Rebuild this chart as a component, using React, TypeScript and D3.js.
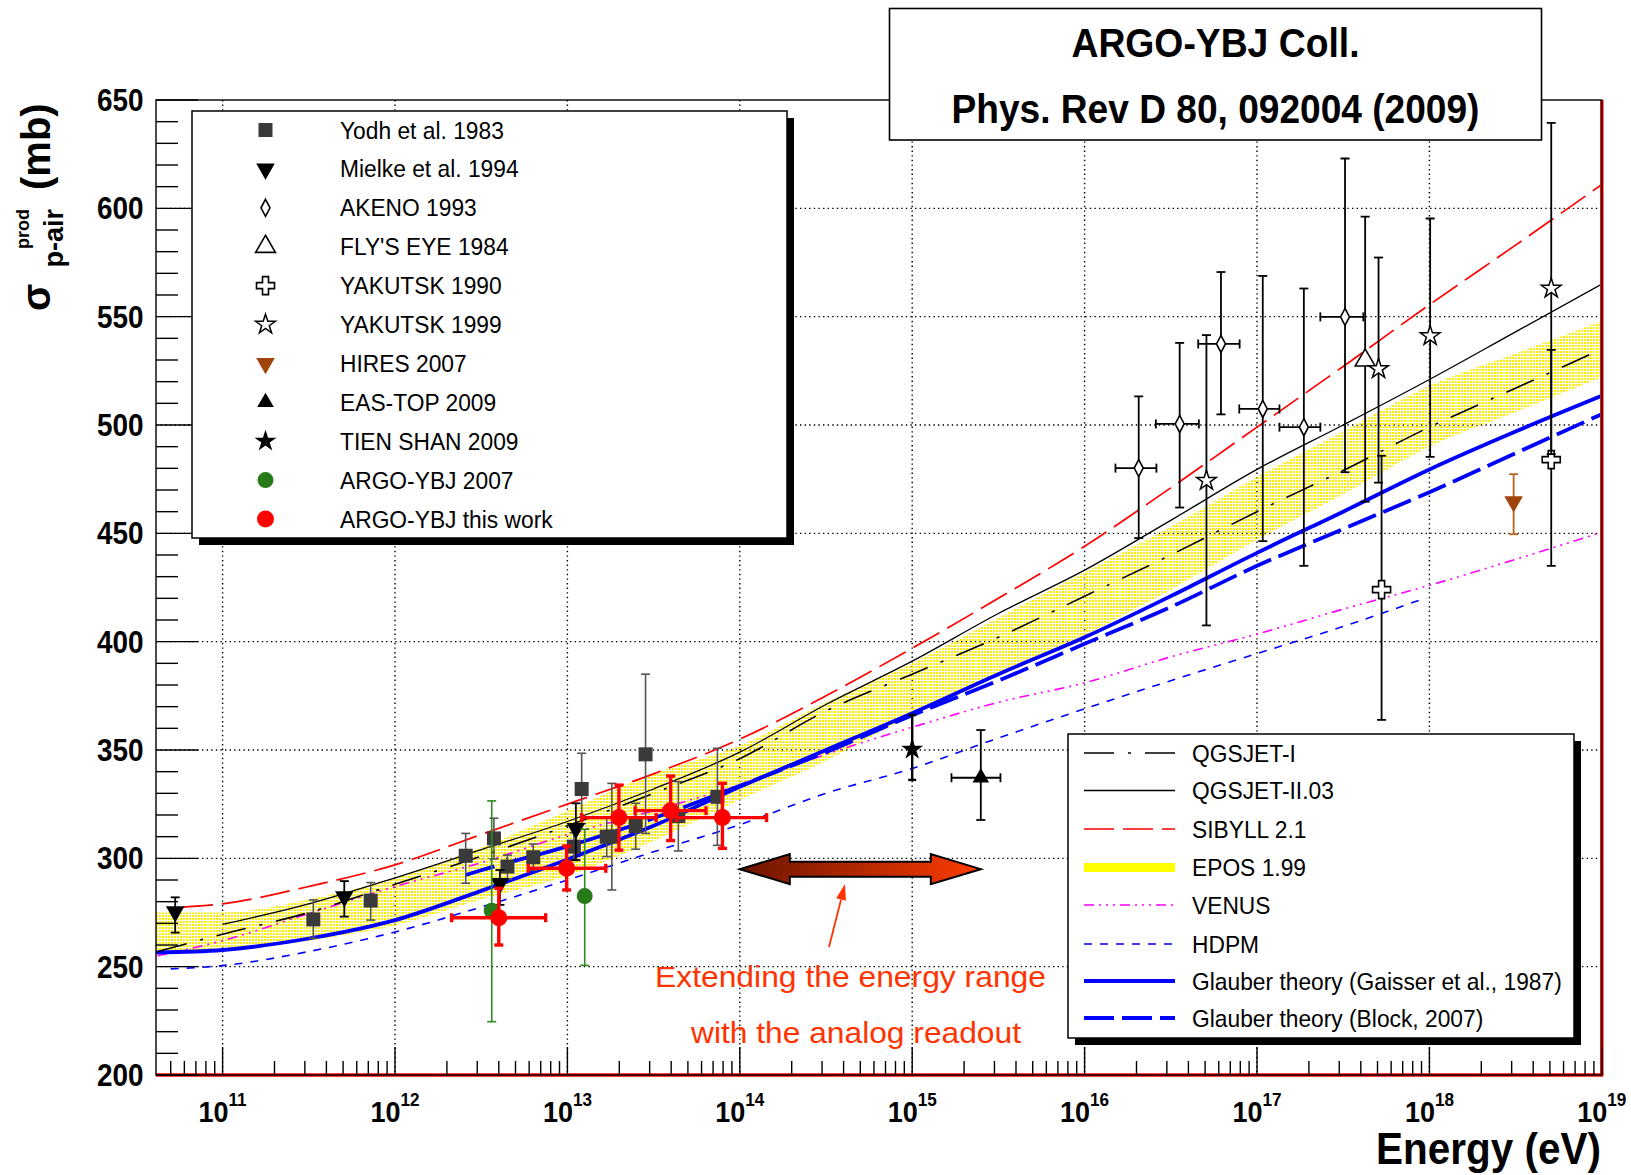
import React from "react";
import * as d3 from "d3";

const WIDTH = 1631;
const HEIGHT = 1175;
const FRAME = { left: 156, right: 1601.8, top: 100, bottom: 1075 };
const FONT = "'Liberation Sans', Arial, Helvetica, sans-serif";

// Axis ticks
const sigmaTicks = [200, 250, 300, 350, 400, 450, 500, 550, 600, 650];
const decadeExponents = [11, 12, 13, 14, 15, 16, 17, 18, 19];

type Point = { e: number; s: number; sLo: number; sHi: number; eLo?: number; eHi?: number };

// Measurements: energy (eV), sigma p-air production (mb) with error limits
const yodh1983: Point[] = [
  { e: 3.36e11, s: 271.8, sLo: 263.1, sHi: 280.8 },
  { e: 7.23e11, s: 280.5, sLo: 271.5, sHi: 288.8 },
  { e: 2.57e12, s: 301.2, sLo: 288.5, sHi: 311.5 },
  { e: 3.75e12, s: 309.2, sLo: 299.7, sHi: 318.5 },
  { e: 4.49e12, s: 296.2, sLo: 290.5, sHi: 301.5 },
  { e: 6.34e12, s: 300.5, sLo: 294.5, sHi: 306.6 },
  { e: 1.09e13, s: 305.4, sLo: 299.0, sHi: 311.8 },
  { e: 1.21e13, s: 332.0, sLo: 316.0, sHi: 348.5 },
  { e: 1.69e13, s: 310.0, sLo: 300.8, sHi: 319.2 },
  { e: 1.81e13, s: 310.0, sLo: 285.4, sHi: 334.6 },
  { e: 2.49e13, s: 314.9, sLo: 304.2, sHi: 325.4 },
  { e: 2.84e13, s: 348.0, sLo: 311.5, sHi: 385.0 },
  { e: 4.4e13, s: 319.5, sLo: 303.4, sHi: 335.4 },
  { e: 7.41e13, s: 328.4, sLo: 306.0, sHi: 350.8 },
];

const mielke1994: Point[] = [
  { e: 5.31e10, s: 275.4, sLo: 265.7, sHi: 282.0 },
  { e: 5.08e11, s: 282.3, sLo: 273.1, sHi: 289.5 },
  { e: 4.06e12, s: 288.5, sLo: 278.5, sHi: 294.6 },
  { e: 1.12e13, s: 313.8, sLo: 299.2, sHi: 325.4 },
];

const akeno1993: Point[] = [
  { e: 2.06e16, s: 480.1, sLo: 447.8, sHi: 513.2, eLo: 1.51e16, eHi: 2.61e16 },
  { e: 3.56e16, s: 500.5, sLo: 461.9, sHi: 537.9, eLo: 2.59e16, eHi: 4.6e16 },
  { e: 6.18e16, s: 537.4, sLo: 504.9, sHi: 570.6, eLo: 4.56e16, eHi: 7.93e16 },
  { e: 1.08e17, s: 507.4, sLo: 446.4, sHi: 568.8, eLo: 7.89e16, eHi: 1.35e17 },
  { e: 1.87e17, s: 499.0, sLo: 435.0, sHi: 563.0, eLo: 1.35e17, eHi: 2.33e17 },
  { e: 3.24e17, s: 549.9, sLo: 478.2, sHi: 623.0, eLo: 2.33e17, eHi: 4.14e17 },
];

const flysEye1984: Point[] = [{ e: 4.24e17, s: 529.9, sLo: 464.6, sHi: 596.2 }];

const yakutsk1990: Point[] = [
  { e: 5.28e17, s: 424.0, sLo: 363.9, sHi: 485.8 },
  { e: 5.09e18, s: 484.0, sLo: 435.0, sHi: 534.7 },
];

const yakutsk1999: Point[] = [
  { e: 5.09e16, s: 474.3, sLo: 407.5, sHi: 541.5 },
  { e: 5.07e17, s: 525.9, sLo: 473.4, sHi: 577.3 },
  { e: 1.01e18, s: 541.1, sLo: 485.3, sHi: 595.3 },
  { e: 5.09e18, s: 563.0, sLo: 486.6, sHi: 639.4 },
];

const hires2007: Point[] = [{ e: 3.08e18, s: 464.6, sLo: 449.6, sHi: 477.3 }];

const easTop2009: Point[] = [
  { e: 2.5e15, s: 337.2, sLo: 317.7, sHi: 359.2, eLo: 1.69e15, eHi: 3.25e15 },
];

const tienShan2009: Point[] = [{ e: 1.0e15, s: 350.3, sLo: 336.2, sHi: 366.2 }];

const argo2007: Point[] = [
  { e: 3.64e12, s: 275.8, sLo: 224.6, sHi: 326.5 },
  { e: 1.26e13, s: 282.6, sLo: 250.6, sHi: 313.4 },
];

const argoThisWork: Point[] = [
  { e: 4.0e12, s: 272.6, sLo: 260.0, sHi: 286.2, eLo: 2.13e12, eHi: 7.48e12 },
  { e: 9.9e12, s: 295.4, sLo: 285.4, sHi: 305.7, eLo: 5.93e12, eHi: 1.67e13 },
  { e: 1.99e13, s: 318.8, sLo: 303.8, sHi: 333.8, eLo: 1.21e13, eHi: 3.27e13 },
  { e: 3.97e13, s: 322.0, sLo: 308.2, sHi: 338.0, eLo: 2.47e13, eHi: 6.37e13 },
  { e: 7.93e13, s: 318.8, sLo: 304.6, sHi: 334.6, eLo: 4.31e13, eHi: 1.43e14 },
];

// Model predictions: [energy (eV), sigma (mb)]
const qgsjet1: [number, number][] = [
  [4.2e10, 257], [1e11, 265], [3.16e11, 275], [1e12, 288], [3.16e12, 301], [1e13, 315],
  [3.16e13, 330], [1e14, 346], [3.16e14, 368], [1e15, 385], [3.16e15, 402], [1e16, 421],
  [3.16e16, 440], [1e17, 460], [3.16e17, 479], [1e18, 499], [3.16e18, 517], [1e19, 535],
];

const qgsjet2: [number, number][] = [
  [1e11, 269.5], [3.16e11, 279], [1e12, 291], [3.16e12, 304], [1e13, 317], [3.16e13, 332],
  [1e14, 349], [3.16e14, 371], [1e15, 391], [3.16e15, 413], [1e16, 433], [3.16e16, 456],
  [1e17, 479.5], [3.16e17, 500], [1e18, 521], [3.16e18, 543], [1e19, 565],
];

const sibyll21: [number, number][] = [
  [5.9e10, 277.5], [1e11, 279], [3.16e11, 287], [1e12, 297], [3.16e12, 311], [1e13, 325],
  [3.16e13, 339], [1e14, 355], [3.16e14, 375], [1e15, 397], [3.16e15, 420], [1e16, 444],
  [3.16e16, 471], [1e17, 499], [3.16e17, 527], [1e18, 555.5], [3.16e18, 583], [1e19, 611],
];

// EPOS 1.99 band: [energy, upper, lower]
const epos199: [number, number, number][] = [
  [4.11e10, 275, 257], [1e11, 275, 257.5], [3.16e11, 281, 262], [1e12, 291, 269],
  [3.16e12, 305, 281], [1e13, 322, 292], [3.16e13, 339, 308], [1e14, 352, 327],
  [3.16e14, 372, 345], [1e15, 390, 366], [3.16e15, 411, 384], [1e16, 432, 403],
  [3.16e16, 453, 424], [1e17, 476, 447], [3.16e17, 497, 468], [1e18, 518, 490],
  [3.16e18, 533, 506], [1e19, 548, 522],
];

const venus: [number, number][] = [
  [4.2e10, 255], [1e11, 262], [3.16e11, 274.5], [1e12, 287], [3.16e12, 298], [1e13, 311],
  [3.16e13, 322], [1e14, 334], [3.16e14, 348], [1e15, 360.5], [3.16e15, 372], [1e16, 381],
  [3.16e16, 393], [1e17, 403.5], [3.16e17, 415], [1e18, 426], [3.16e18, 438], [1e19, 450.5],
];

const hdpm: [number, number][] = [
  [5e10, 249], [1e11, 250.5], [3.16e11, 257], [1e12, 266], [3.16e12, 277.5], [1e13, 290],
  [3.16e13, 303], [1e14, 315.5], [3.16e14, 330], [1e15, 341.5], [3.16e15, 355.5], [1e16, 369],
  [3.16e16, 382], [1e17, 394.5], [3.16e17, 407], [9e17, 419.5],
];

const glauberGaisser: [number, number][] = [
  [4.1e10, 256.5], [1e11, 257.7], [3.16e11, 263], [1e12, 271.5], [3.16e12, 285], [1e13, 299.5],
  [3.16e13, 315], [1e14, 333], [3.16e14, 350], [1e15, 367], [3.16e15, 385], [1e16, 402],
  [3.16e16, 421], [1e17, 441], [3.16e17, 460], [1e18, 479.5], [3.16e18, 497], [1e19, 513.5],
];

const glauberBlock: [number, number][] = [
  [2.57e12, 292.3], [3.16e12, 294.5], [1e13, 305.5], [3.16e13, 318.5], [1e14, 333.5],
  [3.16e14, 349], [1e15, 366], [3.16e15, 382], [1e16, 399], [3.16e16, 416], [1e17, 435],
  [3.16e17, 452], [1e18, 469], [3.16e18, 487], [1e19, 505],
];

// Energy interval covered by the analog readout, and the level of the arrow (mb)
const analogSpan = [1e14, 2.5e15];
const analogLevel = 295;

const x = d3.scaleLog().domain([10 ** 10.6137, 1e19]).range([FRAME.left, FRAME.right]);
const y = d3.scaleLinear().domain([200, 650]).range([FRAME.bottom, FRAME.top]);

const sym = (type: d3.SymbolType, size: number) => d3.symbol().type(type).size(size)() as string;

const SIBYLL_DASH = "30 9";
const QGS1_DASH = "30 14 3 14";
const VENUS_DASH = "10 5 2 5 2 5 2 5";
const HDPM_DASH = "8 8";
const BLOCK_DASH = "30 8";

type MarkerKind =
  | "square" | "triDown" | "diamondOpen" | "triUpOpen" | "crossOpen" | "starOpen"
  | "triDownBrown" | "triUp" | "starFull" | "circleGreen" | "circleRed";

function Marker({ kind, cx, cy }: { kind: MarkerKind; cx: number; cy: number }) {
  const t = `translate(${cx},${cy})`;
  switch (kind) {
    case "square":
      return <rect x={cx - 7} y={cy - 7} width={14} height={14} fill="#3a3a3a" />;
    case "triDown":
      return <path d={sym(d3.symbolTriangle, 150)} transform={`${t} rotate(180)`} fill="#000" />;
    case "triDownBrown":
      return <path d={sym(d3.symbolTriangle, 150)} transform={`${t} rotate(180)`} fill="#a0440c" />;
    case "diamondOpen":
      return <path d="M0,-8.5 L4.5,0 L0,8.5 L-4.5,0 Z" transform={t} fill="#fff" stroke="#000" strokeWidth={1.6} />;
    case "triUpOpen":
      return <path d={sym(d3.symbolTriangle, 170)} transform={t} fill="#fff" stroke="#000" strokeWidth={1.6} />;
    case "triUp":
      return <path d={sym(d3.symbolTriangle, 120)} transform={t} fill="#000" />;
    case "crossOpen":
      return <path d={sym(d3.symbolCross, 180)} transform={t} fill="#fff" stroke="#000" strokeWidth={1.6} />;
    case "starOpen":
      return <path d={sym(d3.symbolStar, 120)} transform={t} fill="#fff" stroke="#000" strokeWidth={1.5} />;
    case "starFull":
      return <path d={sym(d3.symbolStar, 150)} transform={t} fill="#000" />;
    case "circleGreen":
      return <circle cx={cx} cy={cy} r={8} fill="#267a18" />;
    case "circleRed":
      return <circle cx={cx} cy={cy} r={8.5} fill="#ff0000" />;
  }
  return null;
}

type Series = { pts: Point[]; kind: MarkerKind; label: string; color: string; width: number; cap: number };

const measurementSeries: Series[] = [
  { pts: yodh1983, kind: "square", label: "Yodh et al. 1983", color: "#555", width: 1.6, cap: 9 },
  { pts: mielke1994, kind: "triDown", label: "Mielke et al. 1994", color: "#000", width: 1.8, cap: 9 },
  { pts: akeno1993, kind: "diamondOpen", label: "AKENO 1993", color: "#000", width: 1.8, cap: 9 },
  { pts: flysEye1984, kind: "triUpOpen", label: "FLY'S EYE 1984", color: "#000", width: 1.8, cap: 9 },
  { pts: yakutsk1990, kind: "crossOpen", label: "YAKUTSK 1990", color: "#000", width: 1.8, cap: 9 },
  { pts: yakutsk1999, kind: "starOpen", label: "YAKUTSK 1999", color: "#000", width: 1.8, cap: 9 },
  { pts: hires2007, kind: "triDownBrown", label: "HIRES 2007", color: "#b5621f", width: 1.8, cap: 9 },
  { pts: easTop2009, kind: "triUp", label: "EAS-TOP 2009", color: "#000", width: 1.8, cap: 9 },
  { pts: tienShan2009, kind: "starFull", label: "TIEN SHAN 2009", color: "#000", width: 2.4, cap: 8 },
  { pts: argo2007, kind: "circleGreen", label: "ARGO-YBJ 2007", color: "#2f8a20", width: 1.6, cap: 9 },
  { pts: argoThisWork, kind: "circleRed", label: "ARGO-YBJ this work", color: "#ff0000", width: 3.4, cap: 9 },
];

function ErrorBars({ s }: { s: Series }) {
  return (
    <g stroke={s.color} strokeWidth={s.width} fill="none">
      {s.pts.map((p, i) => {
        const px = x(p.e);
        const h = s.cap / 2;
        return (
          <g key={i}>
            <line x1={px} x2={px} y1={y(p.sLo)} y2={y(p.sHi)} />
            <line x1={px - h} x2={px + h} y1={y(p.sLo)} y2={y(p.sLo)} />
            <line x1={px - h} x2={px + h} y1={y(p.sHi)} y2={y(p.sHi)} />
            {p.eLo !== undefined && p.eHi !== undefined && (
              <>
                <line x1={x(p.eLo)} x2={x(p.eHi)} y1={y(p.s)} y2={y(p.s)} />
                <line x1={x(p.eLo)} x2={x(p.eLo)} y1={y(p.s) - h} y2={y(p.s) + h} />
                <line x1={x(p.eHi)} x2={x(p.eHi)} y1={y(p.s) - h} y2={y(p.s) + h} />
              </>
            )}
          </g>
        );
      })}
    </g>
  );
}

type ModelEntry = { label: string; color: string; width: number; dash?: string };

const modelLegend: ModelEntry[] = [
  { label: "QGSJET-I", color: "#000", width: 1.6, dash: QGS1_DASH },
  { label: "QGSJET-II.03", color: "#000", width: 1.6 },
  { label: "SIBYLL 2.1", color: "#ff0000", width: 1.6, dash: SIBYLL_DASH },
  { label: "EPOS 1.99", color: "#ffff00", width: 9 },
  { label: "VENUS", color: "#ff00ff", width: 1.6, dash: VENUS_DASH },
  { label: "HDPM", color: "#0000ff", width: 1.6, dash: HDPM_DASH },
  { label: "Glauber theory (Gaisser et al., 1987)", color: "#0000ff", width: 3.8 },
  { label: "Glauber theory (Block, 2007)", color: "#0000ff", width: 3.8, dash: BLOCK_DASH },
];

function T(props: {
  x: number; y: number; size: number; sx?: number; anchor?: string; weight?: string;
  fill?: string; length?: number; children: React.ReactNode;
}) {
  const { x: tx, y: ty, size, sx = 1, anchor = "start", weight = "normal", fill = "#000", length, children } = props;
  return (
    <text
      transform={`translate(${tx},${ty}) scale(${sx},1)`}
      fontSize={size}
      textAnchor={anchor as any}
      fontWeight={weight}
      fill={fill}
      fontFamily={FONT}
      textLength={length}
      lengthAdjust={length ? "spacingAndGlyphs" : undefined}
    >
      {children}
    </text>
  );
}

export default function App() {
  const line = d3
    .line<[number, number]>()
    .x((d) => x(d[0]))
    .y((d) => y(d[1]))
    .curve(d3.curveMonotoneX);
  const band = d3
    .area<[number, number, number]>()
    .x((d) => x(d[0]))
    .y0((d) => y(d[2]))
    .y1((d) => y(d[1]))
    .curve(d3.curveMonotoneX);

  // minor ticks
  const minorX: number[] = [];
  for (let dec = 10; dec <= 18; dec++) {
    for (let k = 2; k <= 9; k++) {
      const v = k * 10 ** dec;
      if (v > x.domain()[0] && v < x.domain()[1]) minorX.push(v);
    }
  }
  const minorY: number[] = [];
  for (let v = 210; v < 650; v += 10) if (v % 50 !== 0) minorY.push(v);

  // legend geometry
  const leg1 = { x0: 192, x1: 787, y0: 111, y1: 538, rowY: 130, step: 38.9, markX: 265.5, textX: 340 };
  const leg2 = { x0: 1068, x1: 1574, y0: 734, y1: 1038, rows: [753, 790.5, 829, 867.5, 905, 944, 981, 1018], l0: 1084, l1: 1175, textX: 1192 };

  // annotation arrow
  const ax0 = x(analogSpan[0]);
  const ax1 = x(analogSpan[1]);
  const ay = y(analogLevel);
  const headL = 50, headH = 15, shaftH = 7.5;
  const arrowPath = [
    [ax0, ay], [ax0 + headL, ay - headH], [ax0 + headL, ay - shaftH], [ax1 - headL, ay - shaftH],
    [ax1 - headL, ay - headH], [ax1, ay], [ax1 - headL, ay + headH], [ax1 - headL, ay + shaftH],
    [ax0 + headL, ay + shaftH], [ax0 + headL, ay + headH],
  ].map((p, i) => `${i ? "L" : "M"}${p[0]},${p[1]}`).join("") + "Z";

  // pointer from the text to the arrow
  const pFrom = [829, 947];
  const pTo = [845, 884];
  const dx = pTo[0] - pFrom[0], dy = pTo[1] - pFrom[1];
  const len = Math.hypot(dx, dy);
  const ux = dx / len, uy = dy / len;
  const hb = [pTo[0] - ux * 16, pTo[1] - uy * 16];
  const pointerHead = `M${pTo[0]},${pTo[1]}L${hb[0] - uy * 5},${hb[1] + ux * 5}L${hb[0] + uy * 5},${hb[1] - ux * 5}Z`;

  return (
    <div style={{ position: "absolute", left: 0, top: 0 }}>
      <svg width={WIDTH} height={HEIGHT} viewBox={`0 0 ${WIDTH} ${HEIGHT}`} style={{ display: "block", background: "#fff" }}>
        <defs>
          <clipPath id="plotArea">
            <rect x={FRAME.left} y={FRAME.top} width={FRAME.right - FRAME.left} height={FRAME.bottom - FRAME.top} />
          </clipPath>
          <pattern id="eposDots" width={3} height={3} patternUnits="userSpaceOnUse">
            <rect width={2} height={2} fill="#ffee00" />
          </pattern>
          <linearGradient id="arrowGrad" x1="0" x2="1" y1="0" y2="0">
            <stop offset="0" stopColor="#6a1400" />
            <stop offset="1" stopColor="#ff3c00" />
          </linearGradient>
        </defs>

        <rect width={WIDTH} height={HEIGHT} fill="#fff" />

        {/* grid */}
        <g stroke="#000" strokeWidth={1.4} strokeDasharray="1.4 3.2">
          {decadeExponents.filter((n) => n < 19).map((n) => (
            <line key={n} x1={x(10 ** n)} x2={x(10 ** n)} y1={FRAME.top} y2={FRAME.bottom} />
          ))}
          {sigmaTicks.filter((v) => v > 200 && v < 650).map((v) => (
            <line key={v} x1={FRAME.left} x2={FRAME.right} y1={y(v)} y2={y(v)} />
          ))}
        </g>

        {/* model curves */}
        <g clipPath="url(#plotArea)" fill="none">
          <path d={band(epos199) as string} fill="url(#eposDots)" stroke="none" />
          <path d={line(hdpm) as string} stroke="#0000ff" strokeWidth={1.6} strokeDasharray={HDPM_DASH} />
          <path d={line(venus) as string} stroke="#ff00ff" strokeWidth={1.6} strokeDasharray={VENUS_DASH} />
          <path d={line(glauberGaisser) as string} stroke="#0000ff" strokeWidth={3.8} />
          <path d={line(glauberBlock) as string} stroke="#0000ff" strokeWidth={3.8} strokeDasharray={BLOCK_DASH} />
          <path d={line(qgsjet1) as string} stroke="#000" strokeWidth={1.6} strokeDasharray={QGS1_DASH} />
          <path d={line(qgsjet2) as string} stroke="#000" strokeWidth={1.3} />
          <path d={line(sibyll21) as string} stroke="#ff0000" strokeWidth={1.7} strokeDasharray={SIBYLL_DASH} />
        </g>

        {/* measurements */}
        <g clipPath="url(#plotArea)">
          {measurementSeries.map((s, i) => (
            <g key={i}>
              <ErrorBars s={s} />
              {s.pts.map((p, j) => (
                <Marker key={j} kind={s.kind} cx={x(p.e)} cy={y(p.s)} />
              ))}
            </g>
          ))}
        </g>

        {/* frame */}
        <g fill="none">
          <line x1={FRAME.left} x2={FRAME.right + 1.5} y1={FRAME.bottom} y2={FRAME.bottom} stroke="#ff0000" strokeWidth={3.5} />
          <line x1={FRAME.right} x2={FRAME.right} y1={FRAME.top} y2={FRAME.bottom} stroke="#ff0000" strokeWidth={3.5} />
          <rect x={FRAME.left} y={FRAME.top} width={FRAME.right - FRAME.left} height={FRAME.bottom - FRAME.top} stroke="#000" strokeWidth={1.4} />
        </g>

        {/* ticks */}
        <g stroke="#000" strokeWidth={1.4}>
          {sigmaTicks.map((v) => (
            <line key={v} x1={FRAME.left} x2={FRAME.left + 42} y1={y(v)} y2={y(v)} />
          ))}
          {minorY.map((v) => (
            <line key={v} x1={FRAME.left} x2={FRAME.left + 22} y1={y(v)} y2={y(v)} />
          ))}
          {decadeExponents.map((n) => (
            <line key={n} x1={x(10 ** n)} x2={x(10 ** n)} y1={FRAME.bottom} y2={FRAME.bottom - 28} />
          ))}
          {minorX.map((v, i) => (
            <line key={i} x1={x(v)} x2={x(v)} y1={FRAME.bottom} y2={FRAME.bottom - 14} />
          ))}
        </g>

        {/* tick labels */}
        {sigmaTicks.map((v) => (
          <T key={v} x={143.5} y={y(v) + 11} size={31} sx={0.9} anchor="end" weight="bold">
            {v}
          </T>
        ))}
        {decadeExponents.map((n) => (
          <text
            key={n}
            transform={`translate(${x(10 ** n)},1122) scale(0.9,1)`}
            textAnchor="middle"
            fontSize={30}
            fontWeight="bold"
            fontFamily={FONT}
          >
            10
            <tspan dy={-16} fontSize={19}>
              {n}
            </tspan>
          </text>
        ))}

        {/* axis titles */}
        <T x={1601} y={1164} size={44} sx={0.92} anchor="end" weight="bold">
          Energy (eV)
        </T>
        <g transform="translate(50,312) rotate(-90)" fontFamily={FONT} fontWeight="bold">
          <text x={1} y={0} fontSize={40}>σ</text>
          <text x={103} y={-21} fontSize={18} textAnchor="end">prod</text>
          <text x={103} y={12.5} fontSize={27} textAnchor="end">p-air</text>
          <text x={122} y={0} fontSize={40}>(mb)</text>
        </g>

        {/* legend of measurements */}
        <rect x={leg1.x0 + 7} y={leg1.y0 + 7} width={leg1.x1 - leg1.x0} height={leg1.y1 - leg1.y0} fill="#000" />
        <rect x={leg1.x0} y={leg1.y0} width={leg1.x1 - leg1.x0} height={leg1.y1 - leg1.y0} fill="#fff" stroke="#000" strokeWidth={1.5} />
        {measurementSeries.map((s, i) => {
          const ry = leg1.rowY + i * leg1.step;
          return (
            <g key={i}>
              <Marker kind={s.kind} cx={leg1.markX} cy={ry} />
              <T x={leg1.textX} y={ry + 8.5} size={24} sx={0.95}>
                {s.label}
              </T>
            </g>
          );
        })}

        {/* legend of models */}
        <rect x={leg2.x0 + 7} y={leg2.y0 + 7} width={leg2.x1 - leg2.x0} height={leg2.y1 - leg2.y0} fill="#000" />
        <rect x={leg2.x0} y={leg2.y0} width={leg2.x1 - leg2.x0} height={leg2.y1 - leg2.y0} fill="#fff" stroke="#000" strokeWidth={1.5} />
        {modelLegend.map((m, i) => {
          const ry = leg2.rows[i];
          return (
            <g key={i}>
              <line
                x1={leg2.l0}
                x2={leg2.l1}
                y1={ry}
                y2={ry}
                stroke={m.color}
                strokeWidth={m.width}
                strokeDasharray={m.dash}
              />
              <T x={leg2.textX} y={ry + 8.5} size={24} sx={0.95}>
                {m.label}
              </T>
            </g>
          );
        })}

        {/* reference box */}
        <rect x={889.5} y={8.5} width={652} height={131.5} fill="#fff" stroke="#000" strokeWidth={1.6} />
        <T x={1215.5} y={57} size={41} sx={0.91} anchor="middle" weight="bold">
          ARGO-YBJ Coll.
        </T>
        <T x={1215.5} y={122.5} size={41} sx={0.905} anchor="middle" weight="bold">
          Phys. Rev D 80, 092004 (2009)
        </T>

        {/* analog readout annotation */}
        <path d={arrowPath} fill="url(#arrowGrad)" stroke="#000" strokeWidth={2} strokeLinejoin="miter" />
        <line x1={pFrom[0]} y1={pFrom[1]} x2={hb[0]} y2={hb[1]} stroke="#ff3300" strokeWidth={1.8} />
        <path d={pointerHead} fill="#ff3300" />
        <T x={655} y={987} size={30} fill="#ff3300" length={391}>
          Extending the energy range
        </T>
        <T x={691} y={1043} size={30} fill="#ff3300" length={330}>
          with the analog readout
        </T>
      </svg>
    </div>
  );
}
